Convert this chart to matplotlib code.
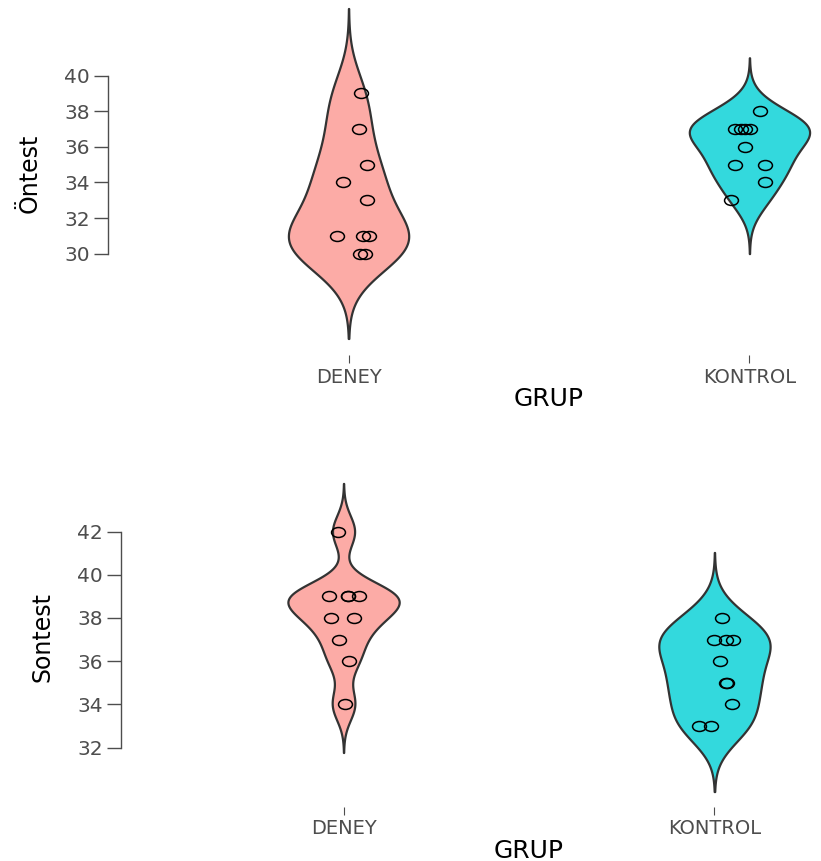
import numpy as np
import matplotlib
matplotlib.use("Agg")
from matplotlib import pyplot as plt
from matplotlib.path import Path
from matplotlib.transforms import Affine2D
from matplotlib.markers import MarkerStyle

# groups on the x axis
groups = ["DENEY", "KONTROL"]

# pretest scores (Öntest)
on_deney = [39, 37, 35, 34, 33, 31, 31, 31, 30, 30]
on_kontrol = [38, 37, 37, 37, 37, 36, 35, 35, 34, 33]
# horizontal jitter
on_deney_jit = [0.03, 0.027, 0.045, -0.015, 0.047, -0.03, 0.035, 0.05, 0.028, 0.04]
on_kontrol_jit = [0.027, -0.035, -0.022, -0.01, 0.002, -0.01, -0.035, 0.04, 0.04, -0.047]

# posttest scores (Sontest)
son_deney = [42, 39, 39, 39, 39, 38, 38, 37, 36, 34]
son_kontrol = [38, 37, 37, 37, 36, 35, 35, 34, 33, 33]
son_deney_jit = [-0.016, -0.04, 0.011, 0.013, 0.043, -0.035, 0.027, -0.013, 0.016, 0.005]
son_kontrol_jit = [0.019, 0.0, 0.03, 0.049, 0.016, 0.032, 0.033, 0.046, -0.043, -0.008]

on_ticks = [30, 32, 34, 36, 38, 40]
son_ticks = [32, 34, 36, 38, 40, 42]

FILLS = ["#FCABA6", "#33D9DD"]
LINE = "#333333"
GREY = "#4d4d4d"


def bw_nrd0(x):
    x = np.asarray(x, float)
    q1, q3 = np.percentile(x, [25, 75])
    lo = min(np.std(x, ddof=1), (q3 - q1) / 1.34)
    return 0.9 * lo * len(x) ** -0.2


def kde(x, adjust=1.0):
    x = np.asarray(x, float)
    bw = bw_nrd0(x) * adjust
    ys = np.linspace(x.min() - 3 * bw, x.max() + 3 * bw, 512)
    d = np.exp(-0.5 * ((ys[:, None] - x[None, :]) / bw) ** 2).sum(axis=1)
    return ys, d / d.max()


def ellipse_marker():
    p = Path.unit_circle()
    return MarkerStyle(p.transformed(Affine2D().scale(1.4, 1.0)))


def panel(ax, data, jits, adjusts, ticks, ylabel):
    lo, hi = [], []
    for i, (vals, jit) in enumerate(zip(data, jits)):
        pos = i + 1
        ys, d = kde(vals, adjusts[i])
        half = d * 0.15
        ax.fill_betweenx(ys, pos - half, pos + half, facecolor=FILLS[i],
                         edgecolor=LINE, linewidth=1.6, zorder=2)
        ax.plot(pos + np.array(jit), vals, linestyle="none", marker=ellipse_marker(),
                markersize=10, markerfacecolor="none", markeredgecolor="black",
                markeredgewidth=1.1, zorder=3)
        lo.append(ys.min())
        hi.append(ys.max())
    span = max(hi) - min(lo)
    ax.set_ylim(min(lo) - 0.05 * span, max(hi) + 0.05 * span)
    ax.set_xlim(0.4, 2.6)
    ax.set_xticks([1, 2])
    ax.set_xticklabels(groups, fontsize=14, color=GREY)
    ax.set_yticks(ticks)
    ax.set_yticklabels([str(t) for t in ticks], fontsize=14.5, color=GREY)
    ax.tick_params(axis="y", length=10, width=1, color=GREY, pad=3)
    ax.tick_params(axis="x", length=6, width=0.8, color=GREY, pad=3)
    for s in ["top", "right", "bottom"]:
        ax.spines[s].set_visible(False)
    ax.spines["left"].set_bounds(ticks[0], ticks[-1])
    ax.spines["left"].set_color(GREY)
    ax.spines["left"].set_linewidth(1)
    ax.set_xlabel("GRUP", fontsize=18, color="black", labelpad=0)
    ax.set_ylabel(ylabel, fontsize=17, color="black", labelpad=16)
    ax.patch.set_alpha(0)


def main():
    plt.rcParams["font.family"] = ["DejaVu Sans"]
    fig = plt.figure(figsize=(8.21, 8.61), dpi=100)
    W, H = 821.0, 861.0

    # top panel: left spine at x=108, categories 401 px apart
    ax1 = fig.add_axes([108 / W, (H - 355) / H, 882 / W, 363 / H])
    panel(ax1, [on_deney, on_kontrol], [on_deney_jit, on_kontrol_jit], [1.0, 1.18],
          on_ticks, "Öntest")

    # bottom panel: left spine at x=121, categories 371 px apart
    ax2 = fig.add_axes([121 / W, (H - 807) / H, 816 / W, 339 / H])
    panel(ax2, [son_deney, son_kontrol], [son_deney_jit, son_kontrol_jit], [1.0, 1.0],
          son_ticks, "Sontest")

    fig.savefig("out.png", dpi=100)


if __name__ == "__main__":
    main()
